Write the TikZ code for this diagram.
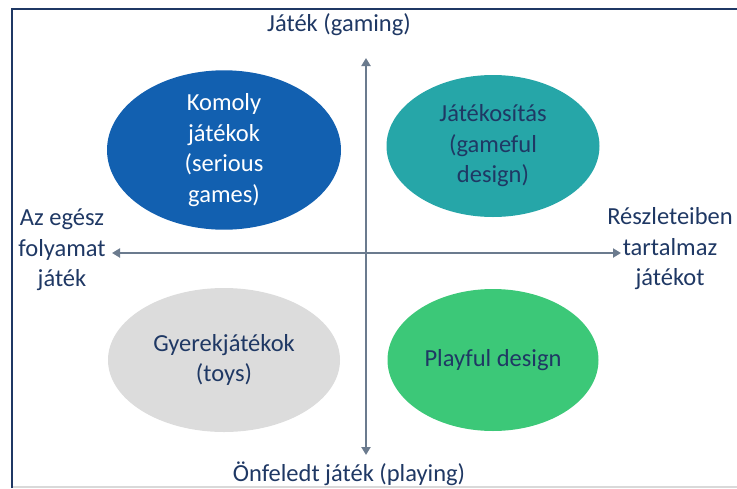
\documentclass[tikz,border=0pt]{standalone}
\usepackage{fontspec}
\setmainfont{Carlito}
\usetikzlibrary{arrows.meta,shapes.geometric}
\definecolor{navy}{HTML}{1F3864}
\definecolor{axisgray}{HTML}{6B7B8E}
\definecolor{seriousblue}{HTML}{1260B0}
\definecolor{gamefulteal}{HTML}{26A6A8}
\definecolor{toysgray}{HTML}{DCDCDC}
\definecolor{playgreen}{HTML}{3CC878}
\definecolor{rulegray}{HTML}{D9D9D9}
\tikzset{
  lbl/.style={font=\fontsize{24.5}{30.5}\selectfont, text=navy, align=center, inner sep=0pt},
  blob/.style={ellipse, draw=none, inner sep=0pt, align=center,
    font=\fontsize{24.5}{30.5}\selectfont},
  axis/.style={draw=axisgray, line width=2pt, {Triangle[width=9pt,length=8pt]}-{Triangle[width=9pt,length=8pt]}},
}
\begin{document}
\begin{tikzpicture}[x=1pt,y=-1pt]
\useasboundingbox (0,0) rectangle (737,488);
% frame
\draw[rulegray, line width=1.2pt] (12,487) -- (737,487);
\draw[navy, line width=2pt] (12,488) -- (12,9) -- (737,9);
% quadrant ellipses
\node[blob, fill=seriousblue, text=white, minimum width=234pt, minimum height=145pt] (serious) at (224,150)
  {Komoly\\játékok\\(serious\\games)};
\node[blob, fill=gamefulteal, text=navy, minimum width=213pt, minimum height=142pt] (gameful) at (493,146)
  {Játékosítás\\(gameful\\design)};
\node[blob, fill=toysgray, text=navy, minimum width=232pt, minimum height=144pt] (toys) at (224,360)
  {Gyerekjátékok\\(toys)};
\node[blob, fill=playgreen, text=navy, minimum width=211pt, minimum height=142pt] (playful) at (493,360)
  {Playful design};
% axes
\coordinate (ytop) at (366,58);
\coordinate (ybot) at (366,455);
\coordinate (xleft) at (112,253);
\coordinate (xright) at (621,253);
\draw[axis] (ytop) -- (ybot);
\draw[axis] (xleft) -- (xright);
% axis labels
\node[lbl] (gaming) at (339,25) {Játék (gaming)};
\node[lbl] (playing) at (349,474) {Önfeledt játék (playing)};
\node[lbl] (whole) at (62,250) {Az egész\\folyamat\\játék};
\node[lbl] (partial) at (670,249) {Részleteiben\\tartalmaz\\játékot};
\end{tikzpicture}
\end{document}
